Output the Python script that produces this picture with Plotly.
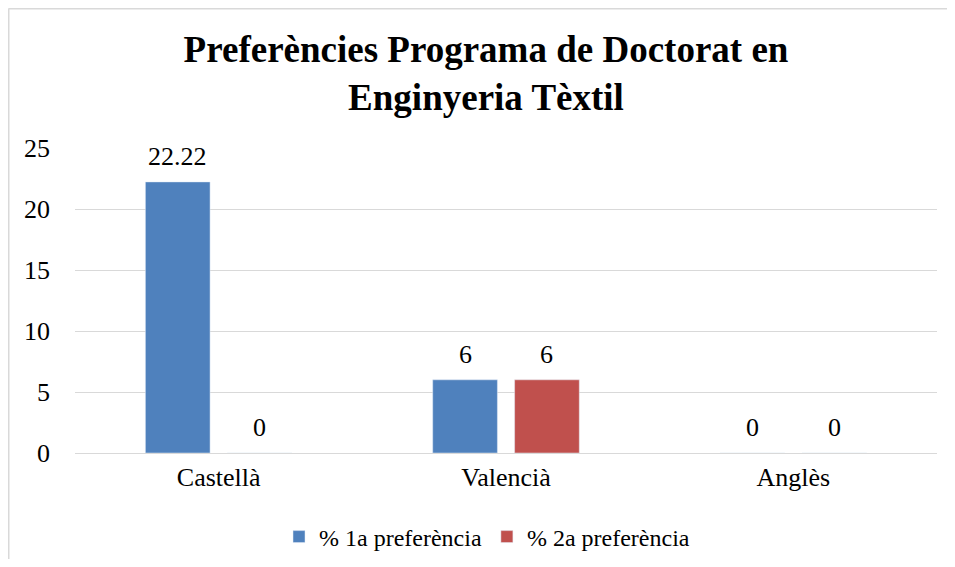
import plotly.graph_objects as go

categories = ["Castellà", "Valencià", "Anglès"]
series1_name = "% 1a preferència"
series1_values = [22.22, 6, 0]
series2_name = "% 2a preferència"
series2_values = [0, 6, 0]
y_ticks = [0, 5, 10, 15, 20, 25]

# page has an 8px body margin on every side; size the figure so no scrollbars appear
W, H = 939, 551
L, R, T, B = 67, 10, 140, 106
font = "Liberation Serif, Times New Roman, serif"
BARGAP = 0.43

fig = go.Figure()
series = [(series1_name, series1_values, "#4F81BD"),
          (series2_name, series2_values, "#C0504D")]
for name, vals, col in series:
    fig.add_trace(go.Bar(x=categories, y=vals, name=name, marker_color=col))

# data labels placed above each bar using the axis scales
annotations = []
slot = (1 - BARGAP) / 2
for k, (name, vals, col) in enumerate(series):
    off = (k - 0.5) * slot
    for i, v in enumerate(vals):
        annotations.append(dict(x=i + off, y=v, xref="x", yref="y", text=f"{v:g}",
                                showarrow=False, yanchor="bottom", yshift=9,
                                font=dict(family=font, size=26, color="#000")))

pw = W - L - R
ph = H - T - B
def px_x(p):
    return (p - L) / pw
def px_y(p):
    return (H - B - p) / ph

grey = "#d9d9d9"
shapes = [
    dict(type="line", xref="paper", yref="paper", x0=px_x(0.5), x1=px_x(960), y0=px_y(0.5), y1=px_y(0.5),
         line=dict(color=grey, width=2)),
    dict(type="line", xref="paper", yref="paper", x0=px_x(0.5), x1=px_x(0.5), y0=px_y(0.5), y1=px_y(570),
         line=dict(color=grey, width=2)),
]

fig.update_layout(
    width=W, height=H,
    margin=dict(l=L, r=R, t=T, b=B),
    paper_bgcolor="white", plot_bgcolor="white",
    font=dict(family=font, size=26, color="#000"),
    title=dict(text="<b>Preferències Programa de Doctorat en<br>Enginyeria Tèxtil</b>",
               x=478 / W, xref="container", xanchor="center",
               y=1 - 54 / H, yref="container", yanchor="middle",
               font=dict(family=font, size=37, color="#000")),
    barmode="group", bargap=BARGAP, bargroupgap=0.21,
    showlegend=True,
    legend=dict(orientation="h", x=479 / W, xref="container", xanchor="center",
                y=1 - 529 / H, yref="container", yanchor="middle",
                font=dict(family=font, size=24, color="#000"),
                itemwidth=30, tracegroupgap=0),
    shapes=shapes,
    annotations=annotations,
)
fig.update_yaxes(range=[0, 25], tickvals=y_ticks, showgrid=True, gridcolor=grey, gridwidth=1,
                 zeroline=True, zerolinecolor=grey, zerolinewidth=1, showline=False,
                 ticks="", ticklabelstandoff=24, tickfont=dict(size=26))
fig.update_xaxes(showgrid=False, showline=False, ticks="", ticklabelstandoff=6,
                 tickfont=dict(size=26))

fig.write_html("out.html", config={"displayModeBar": False})
